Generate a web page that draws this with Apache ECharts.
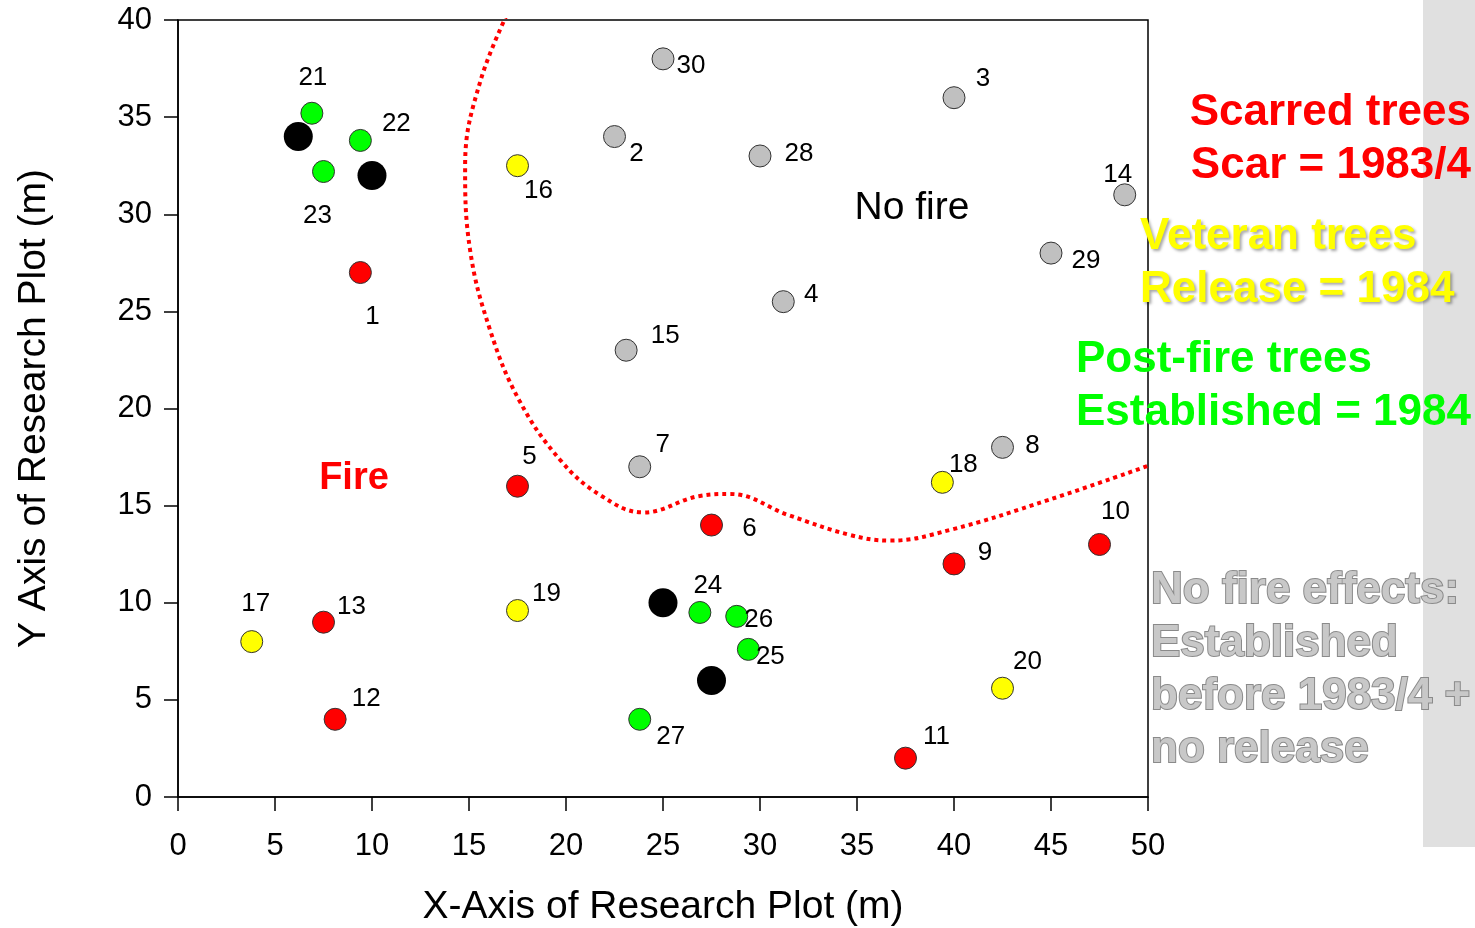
<!DOCTYPE html>
<html lang="en">
<head>
<meta charset="UTF-8">
<title>Research plot tree map</title>
<script src="https://cdn.jsdelivr.net/npm/echarts@6/dist/echarts.min.js"></script>
<style>
  html, body { margin: 0; padding: 0; background: #fff; }
  #chart { width: 1475px; height: 928px; }
</style>
</head>
<body>
<div id="chart"></div>
<script>
// tree ids and positions (m)
const scarredIds = [1, 5, 6, 9, 10, 11, 12, 13];
const scarredXY = [[9.4, 27], [17.5, 16], [27.5, 14], [40, 12], [47.5, 13], [37.5, 2], [8.1, 4], [7.5, 9]];

const veteranIds = [16, 17, 18, 19, 20];
const veteranXY = [[17.5, 32.5], [3.8, 8], [39.4, 16.2], [17.5, 9.6], [42.5, 5.6]];

const postFireIds = [21, 22, 23, 24, 25, 26, 27];
const postFireXY = [[6.9, 35.2], [9.4, 33.8], [7.5, 32.2], [26.9, 9.5], [29.4, 7.6], [28.8, 9.3], [23.8, 4]];

const noFireIds = [2, 3, 4, 7, 8, 14, 15, 28, 29, 30];
const noFireXY = [[22.5, 34], [40, 36], [31.2, 25.5], [23.8, 17], [42.5, 18], [48.8, 31], [23.1, 23], [30, 33], [45, 28], [25, 38]];

const blackXY = [[6.2, 34], [10, 32], [25, 10], [27.5, 6]];

// fire boundary (dotted line)
const fireLineXY = [[17.3, 41], [15.6, 36.9], [14.8, 32.5], [15.05, 28.2], [16.1, 24], [17.6, 20.4], [19.7, 17.35],
  [21.75, 15.55], [24, 14.65], [26.9, 15.5], [28.45, 15.6], [31.5, 14.5], [34.6, 13.5], [36.7, 13.2],
  [39.8, 13.75], [44.9, 15.3], [50, 17.05]];

// label nudges (px) relative to each marker centre
const labelNudge = {
  1: [12, 44], 2: [22, 17], 3: [29, -19], 4: [28, -7], 5: [12, -29], 6: [38, 4], 7: [23, -22],
  8: [30, -2], 9: [31, -11], 10: [16, -33], 11: [31, -21], 12: [31, -20], 13: [28, -15], 14: [-7, -20],
  15: [39, -14], 16: [21, 25], 17: [4, -38], 18: [21, -17], 19: [29, -17], 20: [25, -26], 21: [1, -35],
  22: [36, -17], 23: [-6, 44], 24: [8, -27], 25: [22, 7], 26: [22, 3], 27: [31, 18], 28: [39, -2],
  29: [35, 8], 30: [28, 7]
};

const FONT = 'Liberation Sans, Arial, sans-serif';

function pts(ids, xy) {
  return xy.map(function (p, i) {
    return {
      value: p,
      name: String(ids[i]),
      label: { offset: labelNudge[ids[i]] }
    };
  });
}

function treeSeries(ids, xy, color) {
  return {
    type: 'scatter',
    data: pts(ids, xy),
    symbolSize: 22,
    itemStyle: { color: color, borderColor: '#333', borderWidth: 1, opacity: 1 },
    label: {
      show: true,
      position: 'inside',
      formatter: '{b}',
      color: '#000',
      fontSize: 26,
      fontFamily: FONT
    },
    z: 5
  };
}

const chart = echarts.init(document.getElementById('chart'), null, { renderer: 'canvas' });

const legendFont = 'bold 44px ' + FONT;
const yellowShadow = { textShadowColor: 'rgba(0,0,0,0.35)', textShadowBlur: 3, textShadowOffsetX: 2, textShadowOffsetY: 2 };

function note(x, y, text, style) {
  return { type: 'text', x: x, y: y, style: Object.assign({ text: text, font: legendFont, align: 'left', verticalAlign: 'middle' }, style) };
}

chart.setOption({
  animation: false,
  backgroundColor: '#fff',
  grid: {
    left: 178, top: 20, right: 327, bottom: 131,
    outerBoundsMode: 'none',
    containLabel: false,
    show: true, borderColor: '#000', borderWidth: 1.5, backgroundColor: 'transparent'
  },
  xAxis: {
    type: 'value', min: 0, max: 50, interval: 5,
    name: 'X-Axis of Research Plot (m)',
    nameLocation: 'middle', nameGap: 91,
    nameTextStyle: { fontSize: 39, color: '#000', fontFamily: FONT },
    axisLine: { show: true, onZero: false, lineStyle: { color: '#000', width: 1.5 } },
    axisTick: { show: true, length: 14, lineStyle: { color: '#000', width: 1.5 } },
    axisLabel: { fontSize: 31, color: '#000', fontFamily: FONT, margin: 34 },
    splitLine: { show: false }
  },
  yAxis: {
    type: 'value', min: 0, max: 40, interval: 5,
    name: 'Y Axis of Research Plot (m)',
    nameLocation: 'middle', nameGap: 124,
    nameTextStyle: { fontSize: 39, color: '#000', fontFamily: FONT },
    axisLine: { show: true, onZero: false, lineStyle: { color: '#000', width: 1.5 } },
    axisTick: { show: true, length: 14, lineStyle: { color: '#000', width: 1.5 } },
    axisLabel: { fontSize: 31, color: '#000', fontFamily: FONT, margin: 26 },
    splitLine: { show: false }
  },
  series: [
    {
      type: 'line',
      data: fireLineXY,
      smooth: 0.4,
      symbol: 'none',
      clip: true,
      lineStyle: { color: '#ff0000', width: 4, type: [4, 4], cap: 'butt' },
      z: 2,
      silent: true
    },
    treeSeries(scarredIds, scarredXY, '#ff0000'),
    treeSeries(veteranIds, veteranXY, '#ffff00'),
    treeSeries(postFireIds, postFireXY, '#00ff00'),
    treeSeries(noFireIds, noFireXY, '#c0c0c0'),
    {
      type: 'scatter',
      data: blackXY,
      symbolSize: 29,
      itemStyle: { color: '#000', opacity: 1 },
      z: 5
    }
  ],
  graphic: [
    { type: 'rect', shape: { x: 1423, y: 0, width: 52, height: 847 }, style: { fill: '#e0e0e0' }, z: -10 },
    { type: 'text', x: 912, y: 208, style: { text: 'No fire', font: '39px ' + FONT, fill: '#000', align: 'center', verticalAlign: 'middle' } },
    { type: 'text', x: 354, y: 479, style: { text: 'Fire', font: 'bold 38px ' + FONT, fill: '#ff0000', align: 'center', verticalAlign: 'middle' } },
    note(1471, 113, 'Scarred trees', { fill: '#ff0000', align: 'right' }),
    note(1471, 166, 'Scar = 1983/4', { fill: '#ff0000', align: 'right' }),
    note(1140, 237, 'Veteran trees', Object.assign({ fill: '#ffff00' }, yellowShadow)),
    note(1140, 290, 'Release = 1984', Object.assign({ fill: '#ffff00' }, yellowShadow)),
    note(1076, 360, 'Post-fire trees', { fill: '#00ff00' }),
    note(1076, 413, 'Established = 1984', { fill: '#00ff00' }),
    note(1151, 591, 'No fire effects:', { fill: '#c8c8c8', stroke: '#8a8a8a', lineWidth: 2 }),
    note(1151, 644, 'Established', { fill: '#c8c8c8', stroke: '#8a8a8a', lineWidth: 2 }),
    note(1151, 697, 'before 1983/4 +', { fill: '#c8c8c8', stroke: '#8a8a8a', lineWidth: 2 }),
    note(1151, 750, 'no release', { fill: '#c8c8c8', stroke: '#8a8a8a', lineWidth: 2 })
  ]
});
</script>
</body>
</html>
